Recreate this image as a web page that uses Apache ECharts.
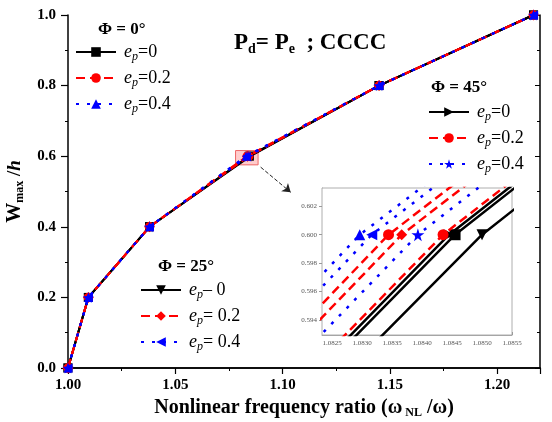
<!DOCTYPE html>
<html><head><meta charset="utf-8">
<script src="https://cdn.jsdelivr.net/npm/echarts@6/dist/echarts.min.js"></script>
<style>html,body{margin:0;padding:0;background:#fff}#c{width:552px;height:422px}</style>
</head><body><div id="c"></div>
<script>
// W_max/h values (y)
const wRatio = [0, 0.2, 0.4, 0.6, 0.8, 1.0];
// Nonlinear frequency ratio (x) per case
const phi0_e0  = [1.0, 1.0095, 1.038, 1.08455, 1.145, 1.217];
const phi0_e2  = [1.0, 1.0095, 1.038, 1.08435, 1.145, 1.217];
const phi0_e4  = [1.0, 1.0095, 1.038, 1.08296, 1.145, 1.217];
const phi25_e0 = [1.0, 1.0095, 1.038, 1.08500, 1.145, 1.217];
const phi25_e2 = [1.0, 1.0095, 1.038, 1.08366, 1.145, 1.217];
const phi25_e4 = [1.0, 1.0095, 1.038, 1.08316, 1.145, 1.217];
const phi45_e0 = [1.0, 1.0095, 1.038, 1.08445, 1.145, 1.217];
const phi45_e2 = [1.0, 1.0095, 1.038, 1.08344, 1.145, 1.217];
const phi45_e4 = [1.0, 1.0095, 1.038, 1.08393, 1.145, 1.217];

const xTicksMain = [1.00, 1.05, 1.10, 1.15, 1.20];
const yTicksMain = [0.0, 0.2, 0.4, 0.6, 0.8, 1.0];
const xTicksInset = [1.0825, 1.0830, 1.0835, 1.0840, 1.0845, 1.0850, 1.0855];
const yTicksInset = [0.594, 0.596, 0.598, 0.600, 0.602];

// zoom highlight box and arrow (data coordinates of the annotation)
const zoomBox = [[1.0781, 0.616], [1.0886, 0.5755]];
const zoomArrow = [[1.0898, 0.569], [1.1038, 0.4977]];

const FF = '"Liberation Serif","Times New Roman",serif';
const STAR = 'path://M50,0 L61,35 L98,35 L68,57 L79,91 L50,70 L21,91 L32,57 L2,35 L39,35 Z';

const cases = [
  {name:'p0e0',  xs:phi0_e0,  color:'#000', dash:'solid', symbol:'rect',     rot:0,   lab:['=0']},
  {name:'p25e0', xs:phi25_e0, color:'#000', dash:'solid', symbol:'triangle', rot:180, lab:['– 0']},
  {name:'p45e0', xs:phi45_e0, color:'#000', dash:'solid', symbol:'triangle', rot:-90, lab:['=0']},
  {name:'p0e2',  xs:phi0_e2,  color:'#f00', dash:[9,5],   symbol:'circle',   rot:0,   lab:['=0.2']},
  {name:'p25e2', xs:phi25_e2, color:'#f00', dash:[9,5],   symbol:'diamond',  rot:0,   lab:['= 0.2']},
  {name:'p45e2', xs:phi45_e2, color:'#f00', dash:[9,5],   symbol:'circle',   rot:0,   lab:['=0.2']},
  {name:'p0e4',  xs:phi0_e4,  color:'#00f', dash:[3,8],   symbol:'triangle', rot:0,   lab:['=0.4']},
  {name:'p25e4', xs:phi25_e4, color:'#00f', dash:[3,8],   symbol:'triangle', rot:90,  lab:['= 0.4']},
  {name:'p45e4', xs:phi45_e4, color:'#00f', dash:[3,8],   symbol:STAR,       rot:0,   lab:['=0.4']}
];
const labMap = {};
cases.forEach(c => labMap[c.name] = c.lab[0]);

const series = [];
cases.forEach((c, i) => {
  const d = c.xs.map((x, k) => [x, wRatio[k]]);
  const s = {
    name: c.name, type: 'line', xAxisIndex: 0, yAxisIndex: 0, data: d,
    symbol: c.symbol, symbolRotate: c.rot, symbolSize: c.symbol === STAR ? 11 : (c.symbol==='diamond'?11:9),
    itemStyle: {color: c.color}, lineStyle: {color: c.color, width: 2, type: c.dash},
    z: 3 + i, animation: false
  };
  if (i === 0) {
    s.markArea = {silent: true, itemStyle: {color: 'rgba(255,110,110,0.35)', borderColor: '#e66', borderWidth: 1},
      data: [[{coord: zoomBox[0]}, {coord: zoomBox[1]}]]};
    s.markLine = {silent: true, symbol: ['none', 'arrow'], symbolSize: 8, label: {show: false},
      lineStyle: {type: 'dashed', color: '#222', width: 1},
      data: [[{coord: zoomArrow[0]}, {coord: zoomArrow[1]}]]};
  }
  series.push(s);
  series.push({
    name: 'inset_' + c.name, type: 'line', xAxisIndex: 2, yAxisIndex: 2, data: d, clip: true,
    symbol: c.symbol, symbolRotate: c.rot, symbolSize: c.symbol === STAR ? 13 : 11,
    itemStyle: {color: c.color}, lineStyle: {color: c.color, width: 2.5, type: c.dash},
    z: 20 + i, animation: false
  });
});

const legendRich = {
  i: {fontFamily: FF, fontStyle: 'italic', fontSize: 18, color: '#000'},
  s: {fontFamily: FF, fontStyle: 'italic', fontSize: 12, color: '#000', padding: [10, 0, 0, 0]},
  n: {fontFamily: FF, fontSize: 18, color: '#000'}
};
function mkLegend(names, left, top) {
  return {
    data: names, left: left, top: top, orient: 'vertical', padding: 0,
    itemWidth: 40, itemHeight: 12, itemGap: 6, selectedMode: false,
    formatter: n => '{i|e}{s|p}{n|' + labMap[n] + '}',
    textStyle: {rich: legendRich, padding: [0, 0, 0, 3]}
  };
}

const axLabel = {fontFamily: FF, fontWeight: 'bold', fontSize: 15, color: '#000'};
const option = {
  backgroundColor: '#fff',
  animation: false,
  title: {
    text: '{b|P}{s|d}{b|= P}{s|e}{b|  ; CCCC}', left: 229, top: 26,
    textStyle: {rich: {
      b: {fontFamily: FF, fontWeight: 'bold', fontSize: 23, color: '#000'},
      s: {fontFamily: FF, fontWeight: 'bold', fontSize: 14, color: '#000', padding: [11, 0, 0, 0]}
    }}
  },
  legend: [
    mkLegend(['p0e0', 'p0e2', 'p0e4'], 75, 43),
    mkLegend(['p45e0', 'p45e2', 'p45e4'], 428, 103),
    mkLegend(['p25e0', 'p25e2', 'p25e4'], 140, 281)
  ],
  graphic: [
    {type: 'text', left: 98, top: 21, style: {text: 'Φ = 0°', font: 'bold 17px ' + FF, fill: '#000'}},
    {type: 'text', left: 431, top: 79, style: {text: 'Φ = 45°', font: 'bold 17px ' + FF, fill: '#000'}},
    {type: 'text', left: 158, top: 258, style: {text: 'Φ = 25°', font: 'bold 17px ' + FF, fill: '#000'}}
  ],
  grid: [
    {left: 68, right: 12, top: 15, bottom: 54, outerBoundsMode: 'none', containLabel: false},
    {left: 322, top: 188, width: 190, height: 147, outerBoundsMode: 'none', containLabel: false,
     show: true, backgroundColor: '#fff', borderColor: '#999', borderWidth: 0.8, z: 10}
  ],
  xAxis: [
    {type: 'value', gridIndex: 0, min: 1.0, max: 1.22, interval: 0.05, position: 'bottom',
     name: '{t|Nonlinear frequency ratio (ω}{s| NL}{t| /ω)}', nameLocation: 'middle', nameGap: 25,
     nameTextStyle: {rich: {
       t: {fontFamily: FF, fontWeight: 'bold', fontSize: 20, color: '#000'},
       s: {fontFamily: FF, fontWeight: 'bold', fontSize: 12, color: '#000', padding: [10, 0, 0, 0]}}},
     axisLine: {lineStyle: {color: '#000', width: 1.5}},
     axisTick: {length: 6, lineStyle: {color: '#000', width: 1.2}},
     minorTick: {show: true, splitNumber: 2, length: 3, lineStyle: {color: '#000'}},
     axisLabel: Object.assign({margin: 10, showMaxLabel: false, formatter: v => v.toFixed(2)}, axLabel),
     splitLine: {show: false}},
    {type: 'value', gridIndex: 0, min: 1.0, max: 1.22, interval: 0.05, position: 'top',
     axisLine: {lineStyle: {color: '#000', width: 1.5}},
     axisTick: {inside: true, length: 5, lineStyle: {color: '#000'}},
     minorTick: {show: true, splitNumber: 2, length: 3, lineStyle: {color: '#000'}},
     axisLabel: {show: false}, splitLine: {show: false}},
    {type: 'value', gridIndex: 1, min: 1.08233, max: 1.0855, position: 'bottom',
     axisLine: {lineStyle: {color: '#999', width: 0.8}},
     axisTick: {inside: true, length: 3, customValues: xTicksInset, lineStyle: {color: '#999'}},
     axisLabel: {customValues: xTicksInset, formatter: v => v.toFixed(4), fontFamily: FF, fontSize: 7, color: '#555', margin: 5},
     splitLine: {show: false}}
  ],
  yAxis: [
    {type: 'value', gridIndex: 0, min: 0, max: 1.0, interval: 0.2, position: 'left',
     name: '{w|W}{s|max}{t| /}{h|h}', nameLocation: 'middle', nameGap: 42, nameRotate: 90, nameMoveOverlap: false,
     nameTextStyle: {rich: {
       w: {fontFamily: FF, fontWeight: 'bold', fontSize: 20, color: '#000'},
       t: {fontFamily: FF, fontWeight: 'bold', fontSize: 19, color: '#000'},
       h: {fontFamily: FF, fontWeight: 'bold', fontStyle: 'italic', fontSize: 19, color: '#000'},
       s: {fontFamily: FF, fontWeight: 'bold', fontSize: 12, color: '#000', padding: [10, 0, 0, 0]}}},
     axisLine: {lineStyle: {color: '#000', width: 1.5}},
     axisTick: {length: 7, lineStyle: {color: '#000', width: 1.2}},
     minorTick: {show: true, splitNumber: 2, length: 3, lineStyle: {color: '#000'}},
     axisLabel: Object.assign({margin: 12, formatter: v => v.toFixed(1)}, axLabel),
     splitLine: {show: false}},
    {type: 'value', gridIndex: 0, min: 0, max: 1.0, interval: 0.2, position: 'right',
     axisLine: {lineStyle: {color: '#000', width: 1.5}},
     axisTick: {inside: true, length: 5, lineStyle: {color: '#000'}},
     minorTick: {show: true, splitNumber: 2, length: 3, lineStyle: {color: '#000'}},
     axisLabel: {show: false}, splitLine: {show: false}},
    {type: 'value', gridIndex: 1, min: 0.59294, max: 0.60329, position: 'left',
     axisLine: {lineStyle: {color: '#999', width: 0.8}},
     axisTick: {inside: false, length: 3, customValues: yTicksInset, lineStyle: {color: '#999'}},
     axisLabel: {customValues: yTicksInset, formatter: v => v.toFixed(3), fontFamily: FF, fontSize: 7, color: '#555', margin: 5},
     splitLine: {show: false}}
  ],
  series: series
};
const chart = echarts.init(document.getElementById('c'), null, {renderer: 'canvas'});
chart.setOption(option);
</script></body></html>
